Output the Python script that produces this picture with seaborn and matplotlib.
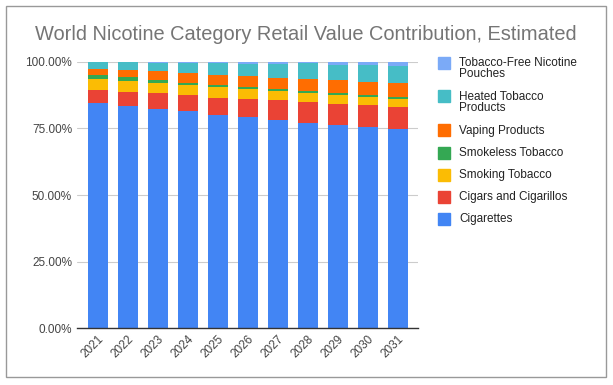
import numpy as np
import pandas as pd
import seaborn as sns
import matplotlib.pyplot as plt
from matplotlib.patches import Rectangle

years = [str(y) for y in range(2021, 2032)]

# shares in %
cigarettes = [83.9, 82.7, 81.7, 80.9, 79.7, 78.7, 77.9, 76.7, 75.9, 75.2, 74.4]
cigars = [4.9, 5.4, 6.0, 6.0, 6.5, 6.8, 7.2, 7.6, 7.6, 8.0, 8.0]
smoking = [4.1, 4.1, 3.8, 3.8, 3.8, 3.8, 3.4, 3.4, 3.4, 3.0, 3.0]
smokeless = [1.5, 1.5, 1.0, 1.0, 1.0, 0.75, 0.75, 0.75, 0.75, 0.75, 0.75]
vaping = [2.4, 2.6, 3.5, 3.5, 3.8, 4.0, 4.0, 4.5, 4.8, 4.8, 5.3]
heated = [2.5, 3.0, 3.1, 3.9, 4.3, 4.5, 5.4, 5.9, 5.9, 6.5, 6.4]
pouches = [0.0, 0.0, 0.3, 0.3, 0.4, 0.9, 0.75, 0.5, 1.0, 1.1, 1.5]

categories = ["Cigarettes", "Cigars and Cigarillos", "Smoking Tobacco",
              "Smokeless Tobacco", "Vaping Products", "Heated Tobacco Products",
              "Tobacco-Free Nicotine Pouches"]
legend_labels = ["Cigarettes", "Cigars and Cigarillos", "Smoking Tobacco",
                 "Smokeless Tobacco", "Vaping Products", "Heated Tobacco\nProducts",
                 "Tobacco-Free Nicotine\nPouches"]
colors = ["#4285F4", "#EA4335", "#FBBC04", "#34A853", "#FF6D01", "#46BDC6", "#7BAAF7"]

series = [cigarettes, cigars, smoking, smokeless, vaping, heated, pouches]
df = pd.DataFrame(dict(zip(categories, series)), index=years)
df = df.div(df.sum(axis=1), axis=0) * 100
cum = df.cumsum(axis=1)

sns.set_style("white")
plt.rcParams["font.family"] = ["Liberation Sans", "DejaVu Sans"]

fig = plt.figure(figsize=(6.13, 3.85), dpi=100)
ax = fig.add_axes([77 / 613, 0.148, 341 / 613, 0.691])

# draw cumulative totals from the top down so each layer covers the next
for cat, col in reversed(list(zip(categories, colors))):
    sns.barplot(x=years, y=cum[cat].values, color=col, width=0.667,
                saturation=1, linewidth=0, edgecolor="none", ax=ax, zorder=3)

ax.set_ylim(0, 100)
ax.set_xlim(-0.7, 10.67)
ax.set_yticks([0, 25, 50, 75, 100])
ax.set_yticklabels(["0.00%", "25.00%", "50.00%", "75.00%", "100.00%"],
                   fontsize=8.5, color="#444444")
ax.set_xticks(range(len(years)))
ax.set_xticklabels(years, rotation=45, ha="right", rotation_mode="anchor",
                   fontsize=8.5, color="#444444")
ax.tick_params(axis="both", length=0, pad=3.6)
ax.grid(axis="y", color="#cccccc", linewidth=0.8, zorder=0)
ax.set_axisbelow(True)
for s in ["top", "right", "left"]:
    ax.spines[s].set_visible(False)
ax.spines["bottom"].set_color("#333333")
ax.spines["bottom"].set_linewidth(1)
ax.spines["bottom"].set_zorder(4)
ax.set_xlabel("")
ax.set_ylabel("")

fig.text(35 / 613, 1 - 34 / 385, "World Nicotine Category Retail Value Contribution, Estimated",
         fontsize=14.4, color="#757575", va="center", ha="left")

# legend on the right, top entry first
legend_y = [62.5, 96.5, 130.5, 152.5, 174.5, 196.5, 218.5]
for (lab, col), yy in zip(reversed(list(zip(legend_labels, colors))), legend_y):
    fig.patches.append(Rectangle((438 / 613, 1 - (yy + 6) / 385), 12 / 613, 12 / 385,
                                 transform=fig.transFigure, color=col))
    fig.text(459 / 613, 1 - (yy - 5.5) / 385, lab, fontsize=8.5, color="#222222",
             va="top", ha="left", linespacing=0.92)

fig.patches.append(Rectangle((6 / 613, 1 - 377 / 385), 600 / 613, 371 / 385,
                             transform=fig.transFigure, fill=False,
                             edgecolor="#999999", linewidth=1))

fig.savefig("out.png", dpi=100)
